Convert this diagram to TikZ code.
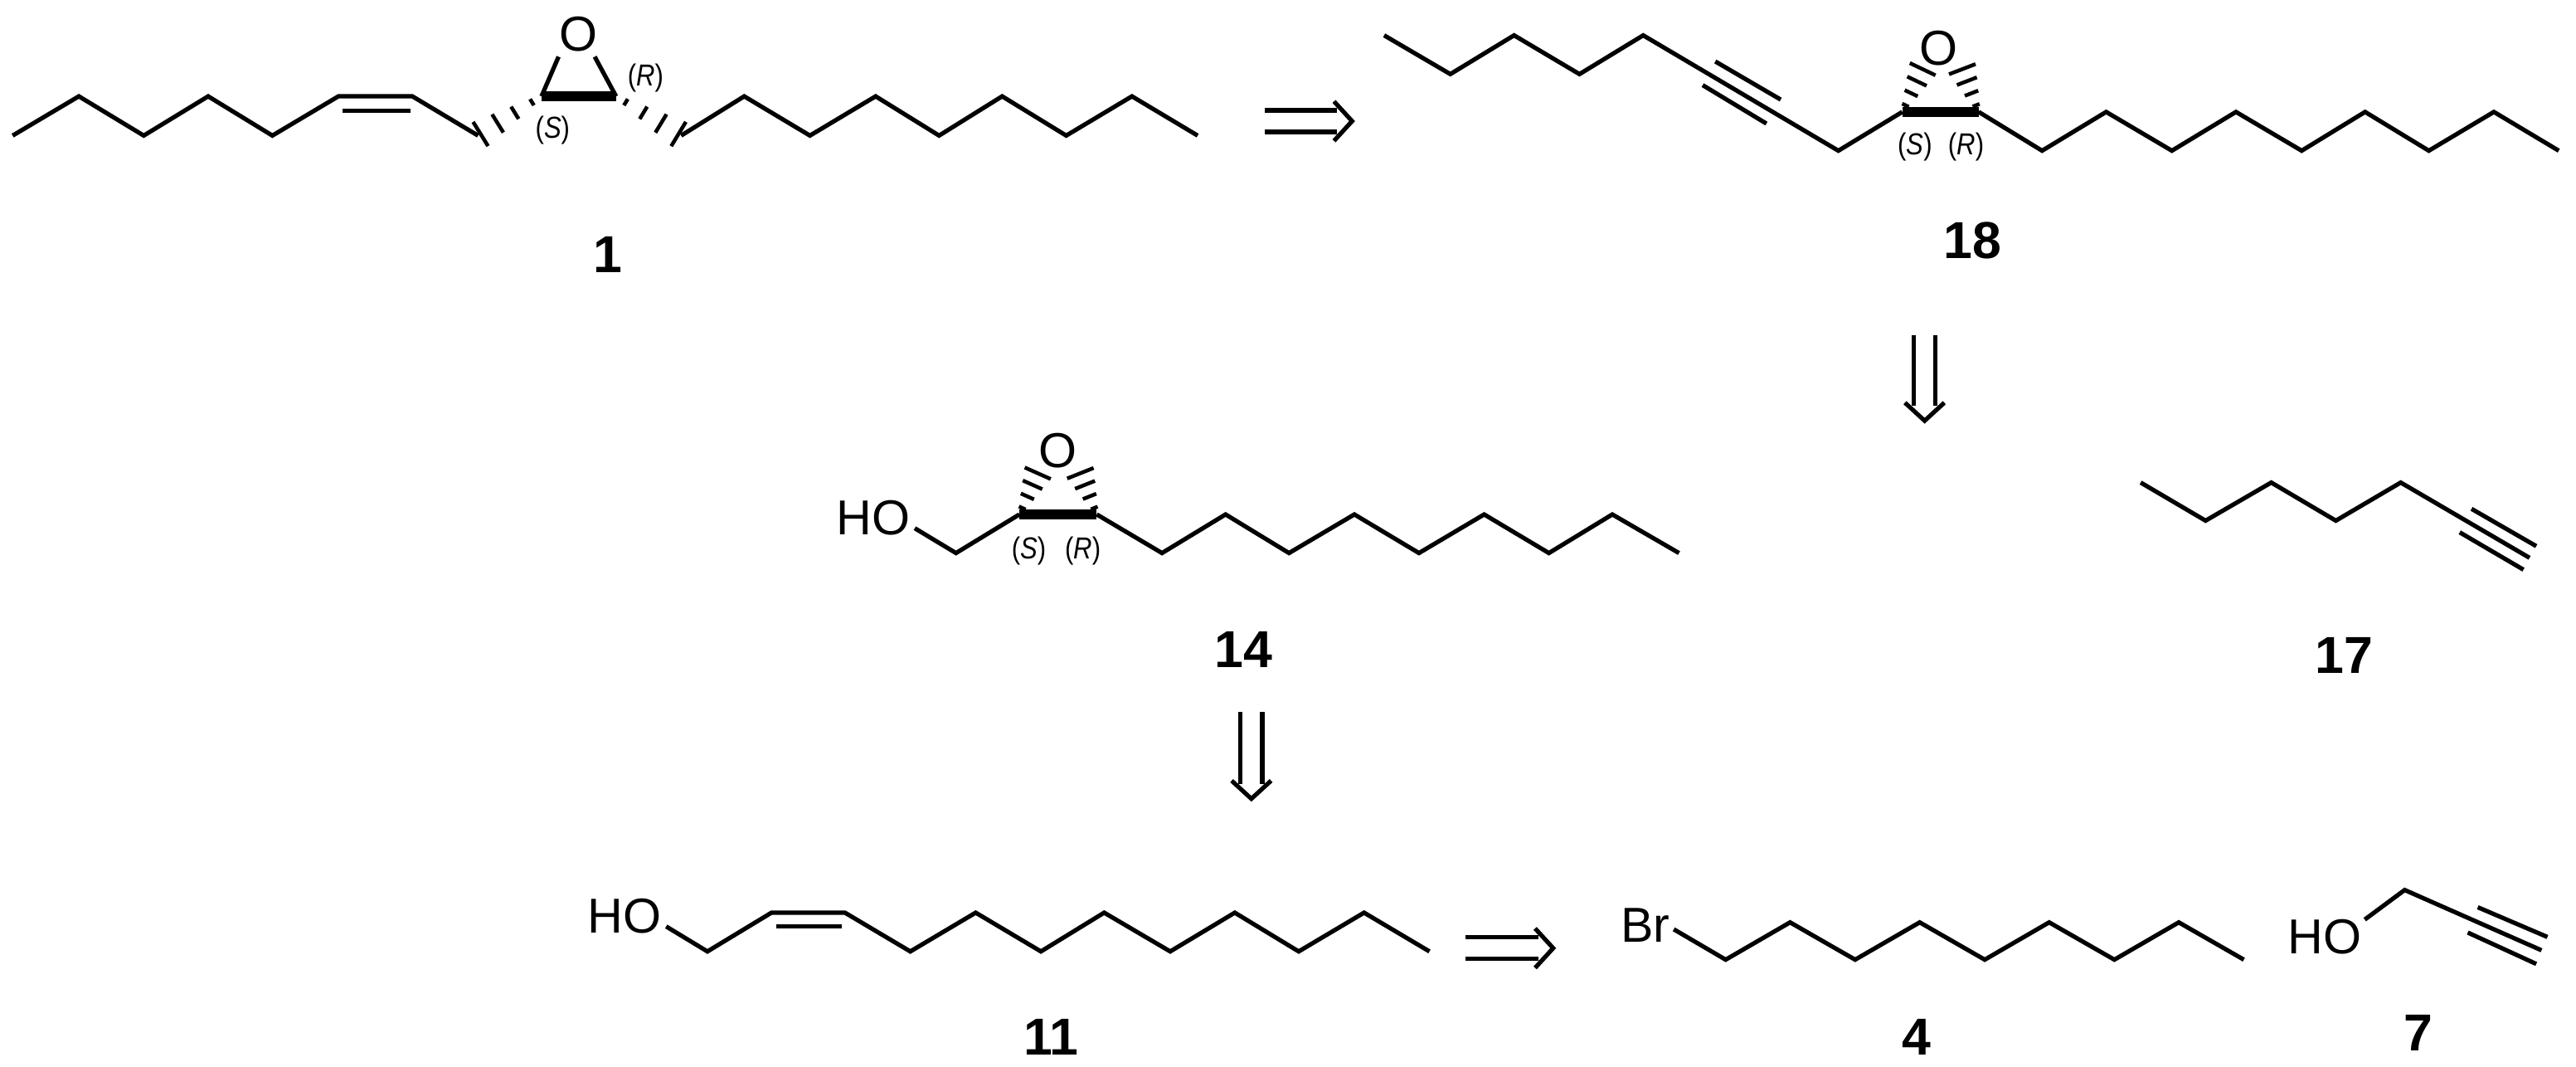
\documentclass[tikz,border=0pt]{standalone}
\usepackage{fontspec}
\setmainfont{Liberation Sans}
\usetikzlibrary{calc}
\tikzset{bond/.style={line width=1.5pt,line join=miter},
 bold/.style={line width=3.4pt},
 lab/.style={font=\fontsize{17}{17}\selectfont,inner sep=0pt},
 num/.style={font=\fontsize{18}{18}\selectfont\bfseries,inner sep=0pt},
 ster/.style={font=\fontsize{10.5}{10.5}\selectfont,inner sep=0pt,xscale=0.85},
 retro/.style={line width=1.5pt}}
\newcommand\hashw[2]{\foreach \t in {0.15,0.42,0.69,0.96}{
  \coordinate (hc) at ($(#1)!\t!(#2)$);
  \draw[line width=1.3pt] ($(hc)!\t*4.5pt+0.6pt!90:(#2)$) -- ($(hc)!\t*4.5pt+0.6pt!-90:(#2)$);}}
\newcommand\retroarrow[3]{% start, end, angle
 \begin{scope}[shift={(#1)},rotate=#3]
  \draw[retro] (0,-6.6) -- (#2-9,-6.6) (0,6.6) -- (#2-9,6.6);
  \draw[retro] (#2-11,-12) -- (#2,0) -- (#2-11,12);
 \end{scope}}
\begin{document}
\begin{tikzpicture}[x=0.02cm,y=-0.02cm]
\useasboundingbox (0,0) rectangle (1568,649);
% ---------- 1
\foreach \n/\x/\y in {a1/7.7/82.5,a2/48/58.6,a3/87.5/82.5,a4/126.7/58.6,a5/165.8/82.5,a6/206/58.6,a7/251/58.6,a8/291/82.5,
 e1/329.6/58.6,e2/375/58.6,b1/414.6/82.5,b2/453/58.6,b3/493/82.5,b4/533/58.6,b5/571.6/82.5,b6/610/58.6,b7/649/82.5,b8/689/58.6,b9/729/82.5,
 o1a/340/34.5,o1b/362/34.5,d1/208.5/67.3,d2/249.8/67.3}
 \coordinate (\n) at (\x,\y);
\draw[bond] (a1)--(a2)--(a3)--(a4)--(a5)--(a6)--(a7)--(a8);
\draw[bond] (d1)--(d2);
\draw[bond] (b1)--(b2)--(b3)--(b4)--(b5)--(b6)--(b7)--(b8)--(b9);
\draw[bond] (e1)--(o1a) (e2)--(o1b);
\draw[bold] (e1)--(e2);
\hashw{e1}{a8}\hashw{e2}{b1}
\node[lab] (O1) at (352,21) {O};
\node[ster] (S1) at (336.4,79.5) {(\textit{S})};
\node[ster] (R1) at (393,47.5) {(\textit{R})};
\node[num] (n1) at (370,155) {1};
% arrow 1 -> 18
\retroarrow{770,73.7}{53}{0}
% ---------- 18
\foreach \n/\x/\y in {c1/842.5/21.5,c2/882.8/45.1,c3/921.6/21.5,c4/961.4/45.1,c5/1000.2/21.5,c6/1119/91.7,
 f1/1157.9/68.1,f2/1204.4/68.1,g1/1243/91.7,g2/1282/68.1,g3/1322/91.7,g4/1361/68.1,g5/1401/91.7,g6/1439.6/68.1,g7/1478.4/91.7,g8/1518/68.1,g9/1557.5/91.7,
 o18a/1170.8/41,o18b/1194/41,t1/1044.1/37.4,t2/1083.9/60.6,t3/1036.4/51.8,t4/1075.2/75.2}
 \coordinate (\n) at (\x,\y);
\draw[bond] (c1)--(c2)--(c3)--(c4)--(c5)--(c6)--(f1);
\draw[bond] (t1)--(t2) (t3)--(t4);
\draw[bold] (f1)--(f2);
\draw[bond] (f2)--(g1)--(g2)--(g3)--(g4)--(g5)--(g6)--(g7)--(g8)--(g9);
\hashw{f1}{o18a}\hashw{f2}{o18b}
\node[lab] (O18) at (1180.1,29.4) {O};
\node[ster] (S18) at (1165.6,89.5) {(\textit{S})};
\node[ster] (R18) at (1196.7,89.5) {(\textit{R})};
\node[num] (n18) at (1200.8,146.4) {18};
% arrow 18 -> 17
\retroarrow{1171.5,204}{52}{-90}
% ---------- 17
\foreach \n/\x/\y in {h1/1303/293.6,h2/1342.5/316.8,h3/1382.5/293.6,h4/1421.8/316.8,h5/1461.3/293.6,h6/1539.7/339.4,
 u1/1504.4/309.6,u2/1543.8/332.3,u3/1497.2/323.9,u4/1536/346.6}
 \coordinate (\n) at (\x,\y);
\draw[bond] (h1)--(h2)--(h3)--(h4)--(h5)--(h6);
\draw[bond] (u1)--(u2) (u3)--(u4);
\node[num] (n17) at (1427,398.8) {17};
% ---------- 14
\foreach \n/\x/\y in {k0/556.8/321.4,k1/581.9/336.5,m1/620.5/313,m2/667.6/313,k2/707.3/336.5,k3/746/313,k4/784.6/336.5,k5/824.4/313,k6/863.7/336.5,k7/903.4/313,k8/942.8/336.5,k9/981.4/313,k10/1022/336.5,
 o14a/632.1/286.9,o14b/657.2/286.9}
 \coordinate (\n) at (\x,\y);
\draw[bond] (k0)--(k1)--(m1);
\draw[bold] (m1)--(m2);
\draw[bond] (m2)--(k2)--(k3)--(k4)--(k5)--(k6)--(k7)--(k8)--(k9)--(k10);
\hashw{m1}{o14a}\hashw{m2}{o14b}
\node[lab] (O14) at (643.7,274.3) {O};
\node[lab] (HO14) at (531.7,315) {HO};
\node[ster] (S14) at (626.3,335) {(\textit{S})};
\node[ster] (R14) at (659.1,335) {(\textit{R})};
\node[num] (n14) at (757,395.5) {14};
% arrow 14 -> 11
\retroarrow{761.7,433.3}{52.7}{-90}
% ---------- 11
\foreach \n/\x/\y in {p0/405.5/563.7,p1/430.6/578.9,p2/469.6/555.3,p3/514.3/555.3,p4/554.1/578.9,p5/593.9/555.3,p6/633.6/578.9,p7/672.1/555.3,p8/712.3/578.9,p9/751.6/555.3,p10/790.5/578.9,p11/830.3/555.3,p12/870.1/578.9,
 q1/472.5/563.7,q2/512.3/563.7}
 \coordinate (\n) at (\x,\y);
\draw[bond] (p0)--(p1)--(p2)--(p3)--(p4)--(p5)--(p6)--(p7)--(p8)--(p9)--(p10)--(p11)--(p12);
\draw[bond] (q1)--(q2);
\node[lab] (HO11) at (380,557.5) {HO};
\node[num] (n11) at (639.9,631) {11};
% arrow 11 -> 4 + 7
\retroarrow{892.2,576.9}{53.2}{0}
% ---------- 4
\foreach \n/\x/\y in {r0/1018.8/565.4,r1/1050.4/583.9,r2/1089.6/561.2,r3/1129.2/583.9,r4/1168.5/561.2,r5/1208.1/583.9,r6/1247.3/561.2,r7/1287/583.9,r8/1326.2/561.2,r9/1365.8/583.9}
 \coordinate (\n) at (\x,\y);
\draw[bond] (r0)--(r1)--(r2)--(r3)--(r4)--(r5)--(r6)--(r7)--(r8)--(r9);
\node[lab] (Br) at (1001.4,563) {Br};
\node[num] (n4) at (1166.4,631) {4};
% ---------- 7
\foreach \n/\x/\y in {s0/1439.4/559.5,s1/1463.7/541.5,s2/1547/578.2,v1/1508.2/552,v2/1550.6/570.1,v3/1502.1/567.4,v4/1543.8/586.5}
 \coordinate (\n) at (\x,\y);
\draw[bond] (s0)--(s1)--(s2);
\draw[bond] (v1)--(v2) (v3)--(v4);
\node[lab] (HO7) at (1415.1,570.1) {HO};
\node[num] (n7) at (1471.8,628.5) {7};
\end{tikzpicture}
\end{document}
